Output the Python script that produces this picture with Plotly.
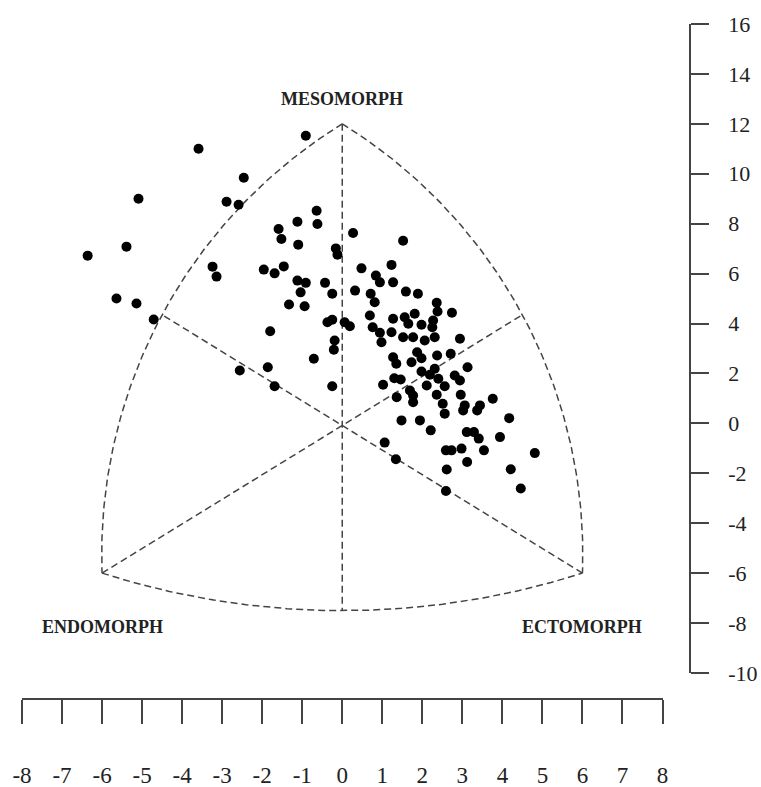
import numpy as np
import plotly.graph_objects as go

# ---- data (somatotype X, Y coordinates) ----
pts_x = [-3.59, -2.46, -5.09, -2.89, -2.59, -5.39, -6.36, -3.24, -3.14, -5.64, -5.14, -4.71, -2.56,
         -0.91, -0.64, -0.62, -1.12, -1.59, -1.52, -1.10, 0.27, -0.16, -0.12, -1.96, -1.69, -1.46,
         0.48, 0.84, -1.12, -0.91, -1.04, -0.43, -0.25, 0.32, -1.33, -0.94, 0.71, 0.81, -0.37, -0.25,
         0.06, 0.19, 0.69, 0.76, -1.80, -0.19, -0.21, -0.71, -1.86, -1.69, -0.25,
         1.52, 1.23, 0.94, 1.27, 1.59, 1.89, 2.36, 2.38, 2.74, 1.81, 1.27, 1.56, 1.65, 1.98, 2.27,
         2.25, 0.94, 1.23, 1.52, 1.77, 2.06, 2.31, 2.94,
         0.98, 1.27, 1.35, 1.73, 1.87, 1.98, 2.37, 2.71, 3.13, 1.02, 1.30, 1.46, 1.98, 2.19, 2.31,
         2.40, 2.11, 2.56, 2.81, 2.94, 1.69, 1.77, 1.36, 1.77, 2.36, 2.51, 2.56, 2.96, 3.06, 3.02,
         1.48, 1.94, 2.21, 1.06,
         3.37, 3.44, 3.76, 4.17, 3.11, 3.29, 3.41, 3.94, 2.59, 2.73, 2.98, 3.54, 4.81, 3.12, 2.61,
         4.21, 2.59, 4.46, 1.34]
pts_y = [11.00, 9.84, 9.00, 8.88, 8.76, 7.08, 6.72, 6.28, 5.88, 5.00, 4.80, 4.16, 2.12,
         11.52, 8.52, 7.99, 8.08, 7.79, 7.39, 7.16, 7.63, 7.01, 6.76, 6.16, 6.01, 6.29,
         6.21, 5.92, 5.72, 5.63, 5.25, 5.63, 5.19, 5.32, 4.76, 4.69, 5.19, 4.85, 4.05, 4.15,
         4.05, 3.89, 4.32, 3.85, 3.69, 3.32, 2.95, 2.59, 2.25, 1.49, 1.49,
         7.32, 6.35, 5.65, 5.65, 5.28, 5.19, 4.83, 4.48, 4.43, 4.39, 4.19, 4.25, 3.99, 3.95, 4.12,
         3.85, 3.63, 3.65, 3.45, 3.45, 3.32, 3.45, 3.39,
         3.25, 2.65, 2.39, 2.45, 2.85, 2.61, 2.72, 2.79, 2.25, 1.55, 1.81, 1.76, 2.08, 1.95, 2.19,
         1.79, 1.52, 1.49, 1.92, 1.72, 1.32, 1.12, 1.05, 0.85, 1.15, 0.79, 0.39, 1.15, 0.72, 0.52,
         0.12, 0.12, -0.28, -0.77,
         0.52, 0.72, 0.99, 0.21, -0.35, -0.35, -0.61, -0.55, -1.08, -1.08, -1.01, -1.08, -1.19, -1.55, -1.85,
         -1.84, -2.71, -2.61, -1.44]

# somatochart frame: apexes (meso, endo, ecto) and arc midpoints (left, right, bottom)
apex_x = [0, -6, 6]
apex_y = [12, -6, -6]
mid_x = [-4.5, 4.5, 0]
mid_y = [4.35, 4.35, -7.5]
corner_labels = ["MESOMORPH", "ENDOMORPH", "ECTOMORPH"]

x_ticks = list(range(-8, 9))
x_ticktext = ["-8", "-7", "-6", "-5", "-4", "-3", "-2", "-1", "0", "1", "2", "3", "4", "5", "6", "7", "8"]
y_ticks = list(range(-10, 17, 2))
y_ticktext = ["-10", "-8", "-6", "-4", "-2", "0", "2", "4", "6", "8", "10", "12", "14", "16"]

ASPECT = 1.6  # pixel scale ratio x:y per unit


def arc(p1, p2, p3, n=120):
    ax, ay = p1[0] * ASPECT, p1[1]
    bx, by = p2[0] * ASPECT, p2[1]
    cx, cy = p3[0] * ASPECT, p3[1]
    d = 2 * (ax * (by - cy) + bx * (cy - ay) + cx * (ay - by))
    ux = ((ax**2 + ay**2) * (by - cy) + (bx**2 + by**2) * (cy - ay) + (cx**2 + cy**2) * (ay - by)) / d
    uy = ((ax**2 + ay**2) * (cx - bx) + (bx**2 + by**2) * (ax - cx) + (cx**2 + cy**2) * (bx - ax)) / d
    r = np.hypot(ax - ux, ay - uy)
    a1 = np.arctan2(ay - uy, ax - ux)
    a2 = np.arctan2(by - uy, bx - ux)
    a3 = np.arctan2(cy - uy, cx - ux)
    tp = 2 * np.pi
    s2 = (a2 - a1) % tp
    s3 = (a3 - a1) % tp
    sweep = s3 if s2 < s3 else -(tp - s3)
    t = a1 + np.linspace(0, sweep, n)
    return list((ux + r * np.cos(t)) / ASPECT), list(uy + r * np.sin(t))


M = (apex_x[0], apex_y[0])
En = (apex_x[1], apex_y[1])
Ec = (apex_x[2], apex_y[2])
L = (mid_x[0], mid_y[0])
R = (mid_x[1], mid_y[1])
B = (mid_x[2], mid_y[2])

fx, fy = [], []
for seg in [arc(M, L, En), arc(M, R, Ec), arc(En, B, Ec)]:
    fx += seg[0] + [None]
    fy += seg[1] + [None]
for a, b in [(M, B), (En, R), (Ec, L)]:
    fx += [a[0], b[0], None]
    fy += [a[1], b[1], None]

fig = go.Figure()
fig.add_trace(go.Scatter(x=fx, y=fy, mode="lines",
                         line=dict(color="#444444", width=1.5, dash="7px,4px"),
                         hoverinfo="skip", showlegend=False))
fig.add_trace(go.Scatter(x=pts_x, y=pts_y, mode="markers",
                         marker=dict(color="black", size=10, line=dict(width=0)),
                         showlegend=False))

lab_font = dict(family="Liberation Serif", size=18, color="#222222")
fig.add_annotation(x=0, y=13.0, text="<b>" + corner_labels[0] + "</b>", showarrow=False, font=lab_font)
fig.add_annotation(x=-6, y=-8.15, text="<b>" + corner_labels[1] + "</b>", showarrow=False, font=lab_font)
fig.add_annotation(x=6, y=-8.15, text="<b>" + corner_labels[2] + "</b>", showarrow=False, font=lab_font)

FW, FH = 761, 787
ML, MT, MR, MB = 22, 24, 61, 79
W = FW - ML - MR
H = FH - MT - MB
fig.update_layout(
    width=FW, height=FH, autosize=False,
    margin=dict(l=ML, r=MR, t=MT, b=MB, pad=0),
    paper_bgcolor="white", plot_bgcolor="white",
    xaxis=dict(range=[-8, 8], domain=[0, 640.5 / W], anchor="free", position=9 / H,
               automargin=False,
               showgrid=False, zeroline=False, showline=True, linecolor="#444444", linewidth=1.5,
               ticks="outside", ticklen=24, tickwidth=1.5, tickcolor="#444444",
               tickvals=x_ticks, ticktext=x_ticktext, ticklabelstandoff=32,
               tickfont=dict(family="Liberation Serif", size=23, color="#222222")),
    yaxis=dict(range=[-10, 16], domain=[35 / H, 1], anchor="free", position=668 / W, side="right",
               automargin=False,
               showgrid=False, zeroline=False, showline=True, linecolor="#444444", linewidth=1.5,
               ticks="outside", ticklen=18, tickwidth=1.5, tickcolor="#444444",
               tickvals=y_ticks, ticktext=y_ticktext, ticklabelstandoff=15,
               tickfont=dict(family="Liberation Serif", size=22, color="#222222")),
)

fig.write_html("out.html", config={"displayModeBar": False},
               post_script="document.body.style.margin='0';document.body.style.overflow='hidden';")
